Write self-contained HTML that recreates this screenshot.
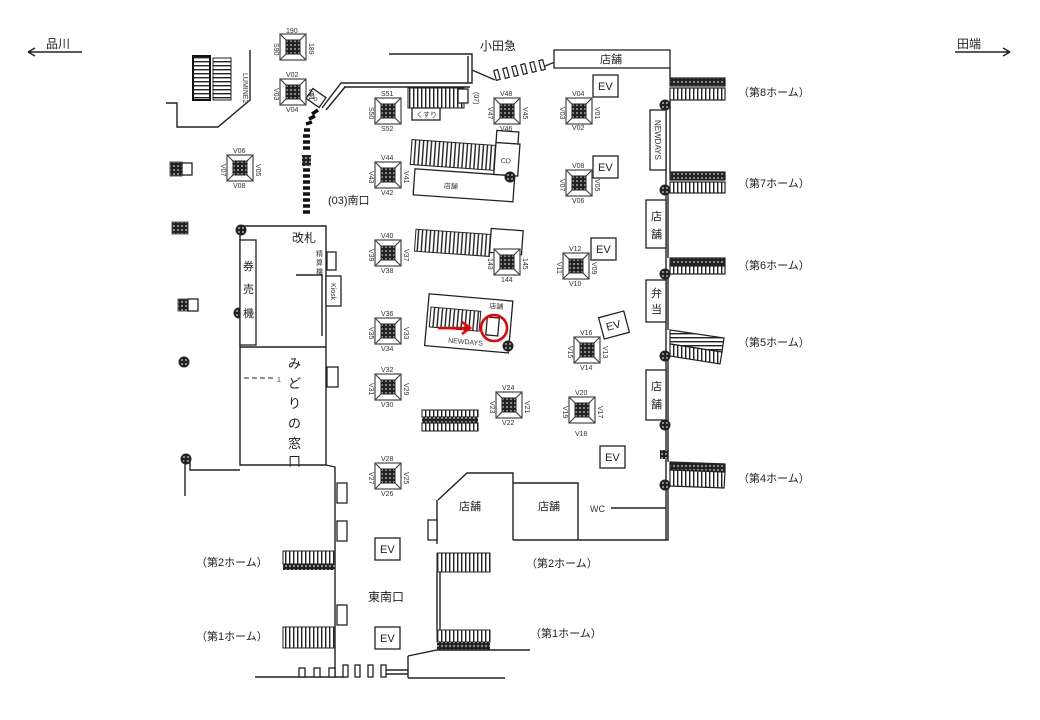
<!DOCTYPE html>
<html><head><meta charset="utf-8"><style>
html,body{margin:0;padding:0;background:#fff;}
svg{display:block;font-family:"Liberation Sans","Noto Sans CJK JP",sans-serif;}
.t{font-size:11px;fill:#222}
.s{font-size:7px;fill:#333}
.l{fill:none;stroke:#222;stroke-width:1.4}
.b{fill:#fff;stroke:#222;stroke-width:1.3}
</style></head><body>
<svg width="1040" height="720" viewBox="0 0 1040 720" xmlns="http://www.w3.org/2000/svg">
<defs>
<pattern id="hv" width="4" height="4" patternUnits="userSpaceOnUse"><rect width="4" height="4" fill="#fff"/><rect x="1" width="1.4" height="4" fill="#222"/></pattern>
<pattern id="hh" width="4" height="4" patternUnits="userSpaceOnUse"><rect width="4" height="4" fill="#fff"/><rect y="1" width="4" height="1.4" fill="#222"/></pattern>
<pattern id="dk" width="4" height="4" patternUnits="userSpaceOnUse"><rect width="4" height="4" fill="#222"/><rect x="1" y="1" width="2" height="2" fill="#888"/></pattern>
<g id="p">
<rect x="-13" y="-13" width="26" height="26" fill="#fff" stroke="#555" stroke-width="1.3"/>
<path d="M-13 -13 L-7 -7 M13 -13 L7 -7 M-13 13 L-7 7 M13 13 L7 7" stroke="#444" stroke-width="1.2"/>
<rect x="-7" y="-7" width="14" height="14" fill="url(#dk)" stroke="#222"/>
</g>
<g id="c"><circle r="5" fill="url(#dk)" stroke="#222"/></g>
</defs>

<text x="46" y="48" class="t" style="font-size:12px">品川</text>
<path d="M28 52 H82 M28 52 l7 -4 M28 52 l7 4" class="l" stroke-width="1"/>
<text x="957" y="48" class="t" style="font-size:12px">田端</text>
<path d="M955 52 H1010 M1010 52 l-7 -4 M1010 52 l-7 4" class="l" stroke-width="1"/>

<rect x="193" y="56" width="17" height="44" fill="url(#hh)" stroke="#111" stroke-width="2"/>
<rect x="213" y="58" width="18" height="42" fill="url(#hh)" stroke="#222"/>
<text x="0" y="0" class="s" transform="translate(243,73) rotate(90)">LUMINE2</text>
<path d="M250 50 V100 L218 127 H177 V103 H166" class="l"/>

<path d="M389 54 H472 V83 H341 L322 108" class="l"/>
<path d="M468 56 V83 M344 87 H470 M326 110 L345 87" class="l" stroke-width="1"/>
<rect x="308" y="92" width="16" height="12" class="b" transform="rotate(35 316 98)"/>
<text x="308" y="101" class="s" transform="rotate(35 316 98)">Kio</text>
<g stroke="#111" stroke-width="3.5">
<path d="M312 114 l6 -4 M309 119 l6 -3 M306 124 l6 -2 M304 130 h6 M303 136 h7 M303 142 h7 M303 148 h7 M303 170 h7 M303 176 h7 M303 182 h7 M303 188 h7 M303 194 h7 M303 200 h7 M303 206 h7 M303 212 h7"/>
</g>
<rect x="302" y="155" width="9" height="11" fill="url(#dk)"/>

<text x="480" y="50" class="t" style="font-size:12px">小田急</text>
<path d="M472 70 L495 80 M540 68 L555 62" class="l" stroke-width="1"/>
<g fill="#fff" stroke="#222" stroke-width="1.2">
<rect x="495" y="70" width="4" height="10" transform="rotate(-15 497 75)"/>
<rect x="504" y="68" width="4" height="10" transform="rotate(-15 506 73)"/>
<rect x="513" y="66" width="4" height="10" transform="rotate(-15 515 71)"/>
<rect x="522" y="64" width="4" height="10" transform="rotate(-15 524 69)"/>
<rect x="531" y="62" width="4" height="10" transform="rotate(-15 533 67)"/>
<rect x="540" y="60" width="4" height="10" transform="rotate(-15 542 65)"/>
</g>
<rect x="554" y="50" width="116" height="18" class="b"/>
<text x="600" y="63" class="t">店舗</text>

<path d="M670 68 V78 M670 100 V172 M668 193 V258 M668 274 V330 M668 356 V462 M668 486 V540 H513 M666 100 V540" class="l"/>
<g stroke="#222" stroke-width="1.2">
<rect x="670" y="78" width="55" height="8" fill="url(#dk)"/><rect x="670" y="88" width="55" height="12" fill="url(#hv)"/>
<rect x="670" y="172" width="55" height="8" fill="url(#dk)"/><rect x="670" y="182" width="55" height="11" fill="url(#hv)"/>
<rect x="670" y="258" width="55" height="7" fill="url(#dk)"/><rect x="670" y="266" width="55" height="8" fill="url(#hv)"/>
<polygon points="670,330 724,338 722,352 670,344" fill="url(#hh)"/><polygon points="670,344 722,352 720,364 670,356" fill="url(#hv)"/>
<polygon points="670,462 725,464 725,472 670,470" fill="url(#dk)"/><polygon points="670,470 725,472 724,488 670,486" fill="url(#hv)"/>
</g>
<text x="738" y="96" class="t">（第8ホーム）</text>
<text x="738" y="187" class="t">（第7ホーム）</text>
<text x="738" y="269" class="t">（第6ホーム）</text>
<text x="738" y="346" class="t">（第5ホーム）</text>
<text x="738" y="482" class="t">（第4ホーム）</text>
<use href="#c" x="665" y="105"/><use href="#c" x="665" y="190"/><use href="#c" x="665" y="274"/>
<use href="#c" x="665" y="356"/><use href="#c" x="665" y="425"/><use href="#c" x="665" y="485"/>
<rect x="660" y="450" width="8" height="9" fill="url(#dk)"/>
<rect x="650" y="110" width="16" height="60" class="b"/>
<text class="s" transform="translate(655,120) rotate(90)" style="font-size:8px">NEWDAYS</text>
<rect x="646" y="200" width="20" height="48" class="b"/>
<text x="651" y="220" class="t">店</text><text x="651" y="238" class="t">舗</text>
<rect x="646" y="280" width="20" height="42" class="b"/>
<text x="651" y="297" class="t">弁</text><text x="651" y="313" class="t">当</text>
<rect x="646" y="370" width="20" height="50" class="b"/>
<text x="651" y="390" class="t">店</text><text x="651" y="408" class="t">舗</text>

<rect x="593" y="75" width="25" height="22" class="b"/><text x="598" y="90" class="t">EV</text>
<rect x="593" y="156" width="25" height="22" class="b"/><text x="598" y="171" class="t">EV</text>
<rect x="591" y="238" width="25" height="22" class="b"/><text x="596" y="253" class="t">EV</text>
<g transform="rotate(-15 614 325)"><rect x="601" y="314" width="26" height="22" class="b"/><text x="606" y="329" class="t">EV</text></g>
<rect x="600" y="446" width="25" height="22" class="b"/><text x="605" y="461" class="t">EV</text>
<rect x="375" y="538" width="25" height="22" class="b"/><text x="380" y="553" class="t">EV</text>
<rect x="375" y="627" width="25" height="22" class="b"/><text x="380" y="642" class="t">EV</text>

<rect x="408" y="88" width="56" height="20" fill="url(#hv)" stroke="#222"/>
<rect x="458" y="89" width="10" height="14" class="b"/>
<rect x="412" y="108" width="28" height="12" class="b"/><text x="416" y="117" class="s">くすり</text>
<text class="s" transform="translate(474,92) rotate(90)">(07)</text>
<g transform="rotate(4 460 170)">
<rect x="410" y="143" width="84" height="25" fill="url(#hv)" stroke="#222"/>
<rect x="415" y="172" width="100" height="26" class="b"/><text x="445" y="189" class="s">店舗</text>
<rect x="494" y="140" width="24" height="32" class="b"/><text x="500" y="160" class="s">CD</text>
<rect x="494" y="128" width="22" height="12" class="b"/>
</g>
<use href="#c" x="510" y="177"/>
<g transform="rotate(4 455 245)">
<rect x="415" y="232" width="75" height="22" fill="url(#hv)" stroke="#222"/>
<rect x="490" y="226" width="32" height="24" class="b"/>
</g>
<g transform="rotate(5 465 320)">
<rect x="427" y="297" width="84" height="52" class="b"/>
<rect x="430" y="310" width="50" height="20" fill="url(#hv)" stroke="#222"/>
<text x="488" y="306" class="s">店舗</text>
<text x="450" y="344" class="s">NEWDAYS</text>
<rect x="487" y="315" width="12" height="18" class="b"/>
</g>
<use href="#c" x="508" y="346"/>
<path d="M438 328 H468" stroke="#e00" stroke-width="2.5"/><path d="M462 322 L470 328 L462 334" fill="none" stroke="#e00" stroke-width="2.5"/>
<circle cx="494" cy="328" r="13" fill="none" stroke="#e00" stroke-width="2.5"/>
<rect x="422" y="410" width="56" height="7" fill="url(#hv)" stroke="#111"/>
<rect x="422" y="417" width="56" height="6" fill="url(#dk)"/>
<rect x="422" y="423" width="56" height="8" fill="url(#hv)" stroke="#111"/>
<text x="328" y="204" class="t">(03)南口</text>

<g class="s">
<use href="#p" x="293" y="47"/><text x="286" y="33">190</text>
<use href="#p" x="293" y="92"/><text x="286" y="77">V02</text><text x="286" y="112">V04</text>
<use href="#p" x="240" y="168"/><text x="233" y="153">V06</text><text x="233" y="188">V08</text>
<use href="#p" x="388" y="111"/><text x="381" y="96">S51</text><text x="381" y="131">S52</text>
<use href="#p" x="507" y="111"/><text x="500" y="96">V48</text><text x="500" y="131">V46</text>
<use href="#p" x="579" y="111"/><text x="572" y="96">V04</text><text x="572" y="130">V02</text>
<use href="#p" x="388" y="175"/><text x="381" y="160">V44</text><text x="381" y="195">V42</text>
<use href="#p" x="579" y="183"/><text x="572" y="168">V08</text><text x="572" y="203">V06</text>
<use href="#p" x="388" y="253"/><text x="381" y="238">V40</text><text x="381" y="273">V38</text>
<use href="#p" x="507" y="262"/><text x="501" y="282">144</text>
<use href="#p" x="576" y="266"/><text x="569" y="251">V12</text><text x="569" y="286">V10</text>
<use href="#p" x="388" y="331"/><text x="381" y="316">V36</text><text x="381" y="351">V34</text>
<use href="#p" x="587" y="350"/><text x="580" y="335">V16</text><text x="580" y="370">V14</text>
<use href="#p" x="388" y="387"/><text x="381" y="372">V32</text><text x="381" y="407">V30</text>
<use href="#p" x="509" y="405"/><text x="502" y="390">V24</text><text x="502" y="425">V22</text>
<use href="#p" x="582" y="410"/><text x="575" y="395">V20</text><text x="575" y="436">V18</text>
<use href="#p" x="388" y="476"/><text x="381" y="461">V28</text><text x="381" y="496">V26</text>
<text transform="translate(274,43) rotate(90)">S90</text><text transform="translate(309,43) rotate(90)">189</text>
<text transform="translate(274,88) rotate(90)">V03</text><text transform="translate(309,88) rotate(90)">V01</text>
<text transform="translate(221,164) rotate(90)">V07</text><text transform="translate(256,164) rotate(90)">V05</text>
<text transform="translate(369,107) rotate(90)">S50</text>
<text transform="translate(488,107) rotate(90)">V47</text><text transform="translate(523,107) rotate(90)">V45</text>
<text transform="translate(560,107) rotate(90)">V03</text><text transform="translate(595,107) rotate(90)">V01</text>
<text transform="translate(369,171) rotate(90)">V43</text><text transform="translate(404,171) rotate(90)">V41</text>
<text transform="translate(560,179) rotate(90)">V07</text><text transform="translate(595,179) rotate(90)">V05</text>
<text transform="translate(369,249) rotate(90)">V39</text><text transform="translate(404,249) rotate(90)">V37</text>
<text transform="translate(488,258) rotate(90)">143</text><text transform="translate(523,258) rotate(90)">145</text>
<text transform="translate(557,262) rotate(90)">V11</text><text transform="translate(592,262) rotate(90)">V09</text>
<text transform="translate(369,327) rotate(90)">V35</text><text transform="translate(404,327) rotate(90)">V33</text>
<text transform="translate(568,346) rotate(90)">V15</text><text transform="translate(603,346) rotate(90)">V13</text>
<text transform="translate(369,383) rotate(90)">V31</text><text transform="translate(404,383) rotate(90)">V29</text>
<text transform="translate(490,401) rotate(90)">V23</text><text transform="translate(525,401) rotate(90)">V21</text>
<text transform="translate(563,406) rotate(90)">V19</text><text transform="translate(598,406) rotate(90)">V17</text>
<text transform="translate(369,472) rotate(90)">V27</text><text transform="translate(404,472) rotate(90)">V25</text>
</g>

<rect x="170" y="162" width="12" height="14" fill="url(#dk)" stroke="#555"/><rect x="182" y="163" width="10" height="12" class="b"/>
<rect x="172" y="222" width="16" height="12" fill="url(#dk)" stroke="#555"/>
<rect x="178" y="299" width="10" height="12" fill="url(#dk)" stroke="#555"/><rect x="188" y="299" width="10" height="12" class="b"/>
<use href="#c" x="184" y="362"/>
<use href="#c" x="186" y="459"/>

<path d="M240 226 H326 V347 M240 226 V465 H326 V347 H240 M326 465 L335 467 V677" class="l"/>
<path d="M185 459 V496 M190 459 V470 H240" class="l"/>
<use href="#c" x="241" y="230"/><use href="#c" x="239" y="313"/>
<rect x="240" y="240" width="16" height="105" class="b"/>
<text x="243" y="270" class="t">券</text><text x="243" y="293" class="t">売</text><text x="243" y="317" class="t">機</text>
<text x="292" y="242" class="t" style="font-size:12px">改札</text>
<text x="316" y="256" class="s">精</text><text x="316" y="265" class="s">算</text><text x="316" y="274" class="s">機</text>
<rect x="327" y="252" width="9" height="18" class="b"/>
<path d="M296 275 H322 V336" class="l" stroke-width="1"/>
<rect x="326" y="276" width="15" height="30" class="b"/><text class="s" transform="translate(331,283) rotate(90)">Kiosk</text>
<path d="M244 378 H275" stroke="#222" stroke-dasharray="5 3"/>
<text x="277" y="382" class="s">1</text>
<text x="288" y="368" class="t" style="font-size:13px">み</text>
<text x="288" y="388" class="t" style="font-size:13px">ど</text>
<text x="288" y="408" class="t" style="font-size:13px">り</text>
<text x="288" y="428" class="t" style="font-size:13px">の</text>
<text x="288" y="448" class="t" style="font-size:13px">窓</text>
<text x="288" y="466" class="t" style="font-size:13px">口</text>
<rect x="327" y="367" width="11" height="20" class="b"/>
<rect x="337" y="483" width="10" height="20" class="b"/><rect x="337" y="521" width="10" height="20" class="b"/><rect x="337" y="605" width="10" height="20" class="b"/>

<rect x="283" y="551" width="52" height="13" fill="url(#hv)" stroke="#222"/>
<rect x="283" y="564" width="52" height="6" fill="url(#dk)"/>
<rect x="283" y="627" width="52" height="21" fill="url(#hv)" stroke="#222"/>
<text x="196" y="566" class="t">（第2ホーム）</text>
<text x="196" y="640" class="t">（第1ホーム）</text>
<text x="368" y="601" class="t" style="font-size:12px">東南口</text>

<path d="M437 500 V544 M437 572 V630 M440 572 V630 M438 500 L467 473 H513 V483 H578 V540 M513 483 V540" class="l"/>
<rect x="428" y="520" width="9" height="20" class="b"/>
<text x="459" y="510" class="t">店舗</text><text x="538" y="510" class="t">店舗</text>
<text x="590" y="512" class="s" style="font-size:9px">WC</text><path d="M611 508 H666" class="l" stroke-width="1"/>
<rect x="437" y="553" width="53" height="19" fill="url(#hv)" stroke="#222"/>
<rect x="437" y="630" width="53" height="12" fill="url(#hv)" stroke="#222"/>
<rect x="437" y="642" width="53" height="8" fill="url(#dk)"/>
<text x="526" y="567" class="t">（第2ホーム）</text>
<text x="530" y="637" class="t">（第1ホーム）</text>

<path d="M255 677 H345 M408 678 H505 M408 656 V678 M408 656 L437 650 H530 M385 670 H408 M385 674 H408" class="l" stroke-width="1.2"/>
<g class="b"><rect x="299" y="668" width="6" height="9"/><rect x="314" y="668" width="6" height="9"/><rect x="329" y="668" width="6" height="9"/><rect x="343" y="665" width="5" height="12"/><rect x="355" y="665" width="5" height="12"/><rect x="368" y="665" width="5" height="12"/><rect x="381" y="665" width="5" height="12"/></g>
</svg>
</body></html>
